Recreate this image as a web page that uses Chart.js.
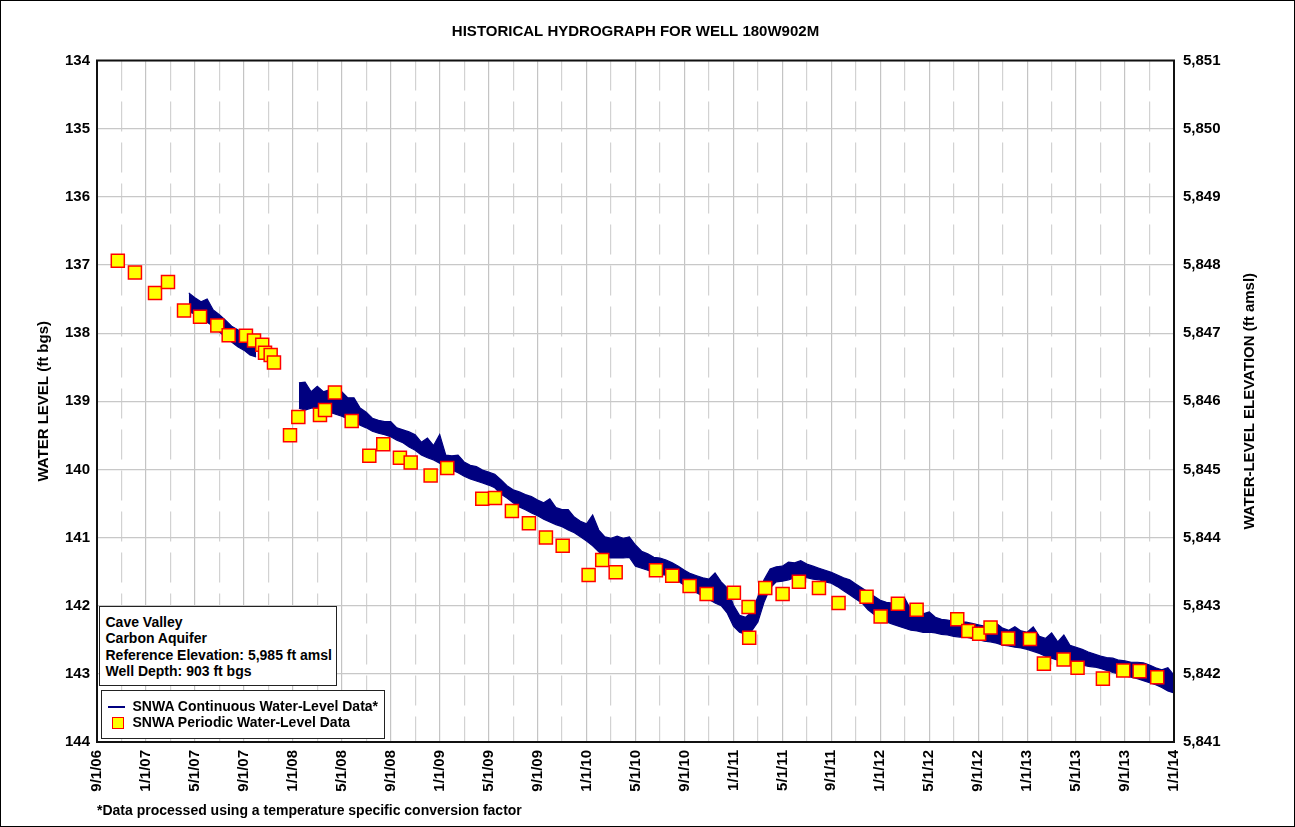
<!DOCTYPE html>
<html>
<head>
<meta charset="utf-8">
<title>Historical Hydrograph for Well 180W902M</title>
<script src="https://cdn.jsdelivr.net/npm/chart.js@4.4.0/dist/chart.umd.min.js"></script>
<style>
  html, body { margin: 0; padding: 0; background: #fff; }
  #wrap { position: relative; width: 1295px; height: 827px; }
  #frame { position: absolute; left: 0; top: 0; width: 1293px; height: 825px; border: 1px solid #000; pointer-events: none; }
  .box { position: absolute; background: #fff; border: 1.5px solid #222; box-sizing: border-box;
         font: bold 14px Arial, "Liberation Sans", sans-serif; color: #000; }
  .box .ln { position: absolute; white-space: nowrap; line-height: 16.4px; }
</style>
</head>
<body>
<div id="wrap">
  <canvas id="myChart" width="1295" height="827"></canvas>

  <div class="box" id="infoBox" style="left:99px; top:606px; width:238px; height:80px;">
    <div class="ln" style="left:5.5px; top:7px;">Cave Valley</div>
    <div class="ln" style="left:5.5px; top:23.4px;">Carbon Aquifer</div>
    <div class="ln" style="left:5.5px; top:39.8px;">Reference Elevation: 5,985 ft amsl</div>
    <div class="ln" style="left:5.5px; top:56.2px;">Well Depth: 903 ft bgs</div>
  </div>

  <div class="box" id="legendBox" style="left:101px; top:690px; width:284px; height:49px;">
    <div style="position:absolute; left:6px; top:14.5px; width:17px; height:2.5px; background:#000080;"></div>
    <div style="position:absolute; left:10px; top:26px; width:12px; height:12px; box-sizing:border-box; background:#ffff00; border:1.5px solid #ff0000;"></div>
    <div class="ln" style="left:30.5px; top:7.3px;">SNWA Continuous Water-Level Data*</div>
    <div class="ln" style="left:30.5px; top:23.3px;">SNWA Periodic Water-Level Data</div>
  </div>

  <div id="frame"></div>
</div>

<script>
//chart texts
var chartTitle = 'HISTORICAL HYDROGRAPH FOR WELL 180W902M';
var leftAxisTitle = 'WATER LEVEL (ft bgs)';
var rightAxisTitle = 'WATER-LEVEL ELEVATION (ft amsl)';
var footNote = '*Data processed using a temperature specific conversion factor';

//reference elevation, used for the right axis
var refElevation = 5985;
var levelMin = 134;
var levelMax = 144;

//x axis: months counted from 9/1/06, one label every 4 months
var xTickLabels = ['9/1/06', '1/1/07', '5/1/07', '9/1/07', '1/1/08', '5/1/08', '9/1/08', '1/1/09',
  '5/1/09', '9/1/09', '1/1/10', '5/1/10', '9/1/10', '1/1/11', '5/1/11', '9/1/11', '1/1/12',
  '5/1/12', '9/1/12', '1/1/13', '5/1/13', '9/1/13', '1/1/14'];

//periodic measurements (month from 9/1/06, ft bgs)
var periodicMonths = [1.7, 3.1, 4.74, 5.8, 7.11, 8.42, 9.83, 10.76, 12.17, 12.83, 13.5, 13.73, 14.19, 14.46,
  15.77, 16.45, 18.22, 18.63, 19.44, 20.81, 22.25, 23.39, 24.75, 25.63, 27.26, 28.62,
  31.48, 32.52, 33.9, 35.29, 36.68, 38.05, 40.17, 41.28, 42.38, 45.67, 47.0, 48.42, 49.81,
  52.04, 53.24, 53.29, 54.6, 56.02, 57.35, 58.99, 60.59, 62.88, 64.03, 65.44, 66.97,
  70.29, 71.19, 72.08, 73.01, 74.45, 76.23, 77.37, 78.98, 80.12, 82.19, 83.85, 85.19, 86.63];
var periodicLevels = [136.94, 137.11, 137.41, 137.25, 137.67, 137.76, 137.89, 138.03, 138.04, 138.11, 138.17, 138.29, 138.32, 138.43,
  139.50, 139.23, 139.20, 139.13, 138.87, 139.29, 139.80, 139.63, 139.83, 139.90, 140.09, 139.98,
  140.43, 140.42, 140.61, 140.79, 141.00, 141.12, 141.55, 141.33, 141.51, 141.48, 141.56, 141.71, 141.83,
  141.81, 142.02, 142.47, 141.74, 141.83, 141.65, 141.74, 141.96, 141.87, 142.16, 141.97, 142.06,
  142.20, 142.37, 142.41, 142.32, 142.48, 142.49, 142.85, 142.79, 142.91, 143.07, 142.95, 142.96, 143.05];

//continuous record, read as the top and bottom of the noisy trace (null = no data)
var contMonths = [7.5, 8, 8.5, 9, 9.5, 10, 10.5, 11, 11.5, 12, 12.5, 13, 14.75,
  16.5, 17, 17.5, 18, 18.5, 19, 19.5, 20, 20.5, 21, 21.5, 22, 22.5, 23, 23.5, 24, 24.5, 25, 25.5, 26,
  26.5, 27, 27.5, 28, 28.5, 29, 29.5, 30, 30.5, 31, 31.5, 32, 32.5, 33, 33.5, 34, 34.5, 35, 35.5, 36,
  36.5, 37, 37.5, 38, 38.5, 39, 39.5, 40, 40.5, 41, 41.5, 42, 42.5, 43, 43.5, 44, 44.5, 45, 45.5, 46,
  46.5, 47, 47.5, 48, 48.5, 49, 49.5, 50, 50.5, 51, 51.5, 52, 52.5, 53, 53.5, 54, 54.5, 55, 55.5, 56,
  56.5, 57, 57.5, 58, 58.5, 59, 59.5, 60, 60.5, 61, 61.5, 62, 62.5, 63, 63.5, 64, 64.5, 65, 65.5, 66,
  66.5, 67, 67.5, 68, 68.5, 69, 69.5, 70, 70.5, 71, 71.5, 72, 72.5, 73, 73.5, 74, 74.5, 75, 75.5, 76,
  76.5, 77, 77.5, 78, 78.5, 79, 79.5, 80, 80.5, 81, 81.5, 82, 82.5, 83, 83.5, 84, 84.5, 85, 85.5, 86,
  86.5, 87, 87.5, 88];
var contTop = [137.41, 137.48, 137.54, 137.50, 137.66, 137.73, 137.81, 137.90, 137.95, 138.01, 138.09, 138.17, null,
  138.73, 138.72, 138.86, 138.78, 138.86, 138.83, 138.91, 138.86, 138.95, 138.95, 139.10, 139.16, 139.25, 139.28, 139.30, 139.30, 139.39, 139.42, 139.45, 139.49,
  139.60, 139.54, 139.65, 139.49, 139.79, 139.80, 139.79, 139.89, 139.94, 139.96, 140.01, 140.04, 140.07, 140.15, 140.24, 140.30, 140.33, 140.37, 140.40, 140.45,
  140.49, 140.43, 140.56, 140.59, 140.59, 140.70, 140.76, 140.80, 140.67, 140.89, 140.99, 141.01, 140.98, 141.01, 140.99, 141.11, 141.20, 141.24, 141.29, 141.30,
  141.33, 141.37, 141.42, 141.48, 141.53, 141.56, 141.59, 141.61, 141.52, 141.65, 141.74, 141.99, 142.14, 142.17, 142.09, 141.87, 141.62, 141.46, 141.43, 141.42,
  141.36, 141.37, 141.34, 141.39, 141.42, 141.45, 141.48, 141.51, 141.55, 141.59, 141.62, 141.68, 141.74, 141.80, 141.86, 141.92, 141.95, 141.96, 141.98, 141.89,
  142.06, 142.09, 142.12, 142.09, 142.17, 142.20, 142.21, 142.23, 142.24, 142.24, 142.26, 142.28, 142.30, 142.31, 142.26, 142.33, 142.36, 142.31, 142.37, 142.39,
  142.31, 142.45, 142.48, 142.40, 142.53, 142.43, 142.58, 142.61, 142.64, 142.68, 142.71, 142.74, 142.76, 142.77, 142.80, 142.81, 142.83, 142.83, 142.84, 142.87,
  142.91, 142.94, 142.91, 143.02];
var contBottom = [137.69, 137.72, 137.78, 137.84, 137.90, 137.98, 138.06, 138.13, 138.20, 138.25, 138.32, 138.35, null,
  139.10, 139.13, 139.10, 139.10, 139.13, 139.16, 139.19, 139.22, 139.26, 139.30, 139.35, 139.39, 139.44, 139.47, 139.49, 139.52, 139.57, 139.61, 139.67, 139.72,
  139.79, 139.83, 139.86, 139.91, 139.96, 140.01, 140.05, 140.10, 140.14, 140.17, 140.20, 140.23, 140.27, 140.36, 140.42, 140.49, 140.55, 140.59, 140.64, 140.68,
  140.73, 140.77, 140.81, 140.84, 140.89, 140.93, 140.99, 141.05, 141.12, 141.21, 141.29, 141.30, 141.30, 141.30, 141.29, 141.42, 141.45, 141.48, 141.51, 141.54,
  141.55, 141.59, 141.64, 141.70, 141.77, 141.81, 141.86, 141.91, 141.96, 142.00, 142.11, 142.30, 142.39, 142.42, 142.37, 142.24, 141.95, 141.74, 141.65, 141.64,
  141.62, 141.59, 141.58, 141.59, 141.61, 141.62, 141.65, 141.67, 141.72, 141.78, 141.84, 141.90, 141.96, 142.06, 142.13, 142.19, 142.24, 142.27, 142.30, 142.33,
  142.36, 142.37, 142.39, 142.39, 142.40, 142.42, 142.43, 142.45, 142.46, 142.46, 142.48, 142.50, 142.52, 142.53, 142.55, 142.58, 142.59, 142.61, 142.62, 142.64,
  142.67, 142.70, 142.74, 142.77, 142.80, 142.83, 142.84, 142.86, 142.87, 142.89, 142.90, 142.92, 142.95, 142.98, 143.00, 143.03, 143.05, 143.07, 143.10, 143.13,
  143.16, 143.20, 143.25, 143.28];

var fontFamily = 'Arial, "Liberation Sans", sans-serif';
Chart.defaults.font.family = fontFamily;
Chart.defaults.color = '#000';

//build xy pairs
function toPoints(xs, ys) {
  var out = [];
  for (var i = 0; i < xs.length; i++) {
    out.push({ x: xs[i], y: ys[i] });
  }
  return out;
}

//right axis title reads bottom to top like the left one
var rightTitlePlugin = {
  id: 'rightTitle',
  afterDraw: function(chart) {
    var ctx = chart.ctx;
    var area = chart.chartArea;
    var s = chart.scales.y2;
    ctx.save();
    ctx.translate(s.right - 45, (area.top + area.bottom) / 2);
    ctx.rotate(-Math.PI / 2);
    ctx.font = 'bold 15px ' + fontFamily;
    ctx.fillStyle = '#000';
    ctx.textAlign = 'center';
    ctx.textBaseline = 'middle';
    ctx.fillText(rightAxisTitle, 0, 0);
    ctx.restore();
  }
};

//black frame round the plot
var framePlugin = {
  id: 'plotFrame',
  afterDatasetsDraw: function(chart) {
    var a = chart.chartArea;
    var ctx = chart.ctx;
    ctx.save();
    ctx.strokeStyle = '#111';
    ctx.lineWidth = 2;
    ctx.strokeRect(a.left, a.top, a.right - a.left, a.bottom - a.top);
    ctx.restore();
  }
};

var ctx = document.getElementById('myChart');

var myChart = new Chart(ctx, {
  type: 'line',
  data: {
    datasets: [
      {
        label: 'SNWA Periodic Water-Level Data',
        data: toPoints(periodicMonths, periodicLevels),
        showLine: false,
        pointStyle: 'rect',
        pointRadius: 9.2,
        pointBackgroundColor: '#ffff00',
        pointBorderColor: '#ff0000',
        pointBorderWidth: 1.5
      },
      {
        label: 'SNWA Continuous Water-Level Data*',
        data: toPoints(contMonths, contTop),
        borderColor: '#000080',
        borderWidth: 1.2,
        pointRadius: 0,
        spanGaps: false,
        fill: false
      },
      {
        label: 'continuous (lower)',
        data: toPoints(contMonths, contBottom),
        borderColor: '#000080',
        backgroundColor: '#000080',
        borderWidth: 1.2,
        pointRadius: 0,
        spanGaps: false,
        fill: '-1'
      }
    ]
  },
  options: {
    responsive: false,
    animation: false,
    events: [],
    layout: { padding: 0 },
    plugins: {
      legend: { display: false },
      tooltip: { enabled: false },
      title: {
        display: true,
        text: chartTitle,
        fullSize: false,
        font: { size: 15, weight: 'bold' },
        color: '#000',
        padding: { top: 23, bottom: 19.5 }
      },
      subtitle: {
        display: true,
        text: footNote,
        position: 'bottom',
        align: 'start',
        fullSize: false,
        font: { size: 14, weight: 'bold' },
        color: '#000',
        padding: { top: 2.6, bottom: 7.6 }
      }
    },
    scales: {
      x: {
        type: 'linear',
        position: 'bottom',
        min: 0,
        max: 88,
        afterFit: function(scale) { scale.height = 58; },
        ticks: {
          stepSize: 2,
          autoSkip: false,
          minRotation: 90,
          maxRotation: 90,
          padding: 8,
          color: '#000',
          font: { size: 15, weight: 'bold' },
          callback: function(value) {
            var v = Math.round(value);
            return v % 4 === 0 ? xTickLabels[v / 4] : '';
          }
        },
        grid: {
          drawTicks: false,
          lineWidth: 1.2,
          color: function(c) {
            return c.tick && Math.round(c.tick.value) % 4 !== 0 ? '#d2d2d2' : '#c4c4c4';
          }
        },
        border: {
          display: false,
          dash: function(c) {
            return c.tick && Math.round(c.tick.value) % 4 !== 0 ? [30, 11] : [];
          }
        }
      },
      y: {
        position: 'left',
        reverse: true,
        min: levelMin,
        max: levelMax,
        afterFit: function(scale) { scale.width = 97; },
        ticks: {
          stepSize: 1,
          padding: 7,
          color: '#000',
          font: { size: 15, weight: 'bold' }
        },
        grid: { drawTicks: false, color: '#c8c8c8', lineWidth: 1.2 },
        border: { display: false },
        title: {
          display: true,
          text: leftAxisTitle,
          color: '#000',
          font: { size: 15, weight: 'bold' },
          padding: { top: 35, bottom: 0 }
        }
      },
      y2: {
        position: 'right',
        min: refElevation - levelMax,
        max: refElevation - levelMin,
        afterFit: function(scale) { scale.width = 121; },
        ticks: {
          stepSize: 1,
          padding: 9,
          color: '#000',
          font: { size: 15, weight: 'bold' },
          callback: function(value) { return value.toLocaleString('en-US'); }
        },
        grid: { display: false, drawOnChartArea: false, drawTicks: false },
        border: { display: false }
      }
    }
  },
  plugins: [rightTitlePlugin, framePlugin]
});
</script>
</body>
</html>
